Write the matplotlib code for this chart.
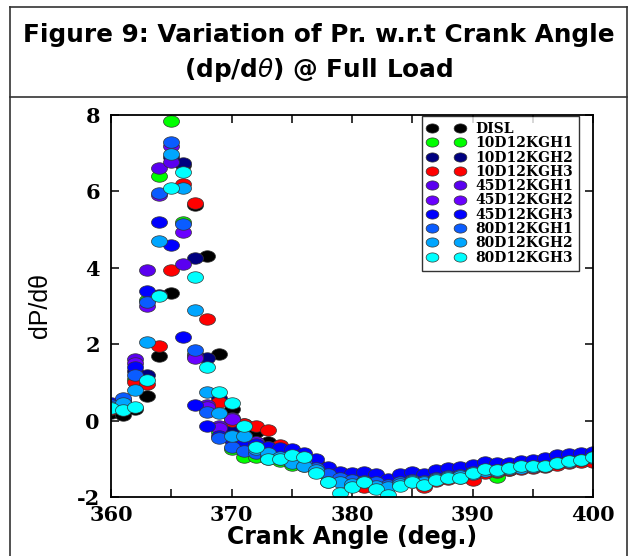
import numpy as np
import matplotlib
matplotlib.use("Agg")
import matplotlib.pyplot as plt
from matplotlib.lines import Line2D

plt.rcParams['axes.unicode_minus'] = False

# crank angle (deg)
angles = list(range(360, 401))

labels = ['DISL', '10D12KGH1', '10D12KGH2', '10D12KGH3', '45D12KGH1',
          '45D12KGH2', '45D12KGH3', '80D12KGH1', '80D12KGH2', '80D12KGH3']
colors = ['#000000', '#00ff00', '#000080', '#ff0000', '#5a00f0',
          '#6a00ff', '#0000ff', '#0a5cff', '#00a6ff', '#00ffff']

disl = [0.20, 0.15, 0.30, 0.65, 1.70, 3.35, 6.70, 5.65, 4.30, 1.75, 0.30, -0.10, -0.30, -0.55, -0.70,
        -0.85, -1.00, -1.10, -1.30, -1.42, -1.48, -1.50, -1.55, -1.60, -1.52, -1.48, -1.50, -1.42,
        -1.38, -1.35, -1.30, -1.25, -1.25, -1.20, -1.18, -1.15, -1.12, -1.05, -1.02, -0.98, -0.92]
d10_h1 = [0.35, 0.30, 1.10, 3.15, 6.40, 7.85, 5.20, 1.75, 0.30, -0.30, -0.75, -0.95, -0.95, -1.00, -1.05,
          -1.15, -1.20, -1.30, -1.45, -1.55, -1.60, -1.62, -1.68, -1.72, -1.62, -1.58, -1.60, -1.52,
          -1.48, -1.45, -1.40, -1.35, -1.47, -1.30, -1.25, -1.22, -1.20, -1.12, -1.08, -1.05, -1.00]
d10_h2 = [0.35, 0.50, 1.30, 1.20, 3.30, 6.90, 6.75, 4.25, 1.65, 0.60, -0.20, -0.40, -0.55, -0.70, -0.85,
          -0.90, -1.00, -1.12, -1.28, -1.38, -1.45, -1.48, -1.52, -1.58, -1.50, -1.45, -1.48, -1.40,
          -1.35, -1.32, -1.25, -1.20, -1.22, -1.18, -1.15, -1.12, -1.10, -1.02, -1.00, -0.95, -0.88]
d10_h3 = [0.30, 0.35, 1.00, 0.95, 1.95, 3.95, 6.20, 5.70, 2.65, 0.50, 0.00, -0.10, -0.15, -0.25, -0.65,
          -0.85, -1.05, -1.20, -1.40, -1.55, -1.62, -1.75, -1.70, -1.72, -1.65, -1.60, -1.75, -1.58,
          -1.52, -1.50, -1.55, -1.38, -1.35, -1.30, -1.28, -1.25, -1.22, -1.15, -1.12, -1.08, -1.08]
d45_h1 = [0.40, 0.45, 1.60, 3.95, 6.60, 6.77, 4.10, 1.70, 0.40, -0.15, 0.07, -0.45, -0.60, -0.75, -0.90,
          -1.00, -1.10, -1.22, -1.38, -1.48, -1.55, -1.58, -1.62, -1.65, -1.58, -1.52, -1.55, -1.48,
          -1.42, -1.40, -1.33, -1.28, -1.28, -1.22, -1.20, -1.18, -1.15, -1.08, -1.05, -1.00, -0.92]
d45_h2 = [0.42, 0.50, 1.50, 3.00, 5.90, 7.20, 4.95, 1.65, 0.35, -0.20, 0.05, -0.40, -0.55, -0.70, -0.88,
          -0.98, -1.08, -1.20, -1.35, -1.45, -1.52, -1.55, -1.60, -1.62, -1.55, -1.50, -1.52, -1.45,
          -1.40, -1.38, -1.32, -1.25, -1.27, -1.22, -1.20, -1.16, -1.14, -1.08, -1.04, -1.00, -0.93]
d45_h3 = [0.45, 0.55, 1.40, 3.40, 5.20, 4.60, 2.20, 0.40, -0.15, -0.40, -0.50, -0.58, -0.62, -0.70, -0.72,
          -0.75, -0.85, -1.00, -1.22, -1.35, -1.38, -1.35, -1.40, -1.52, -1.40, -1.35, -1.40, -1.30,
          -1.25, -1.22, -1.15, -1.08, -1.12, -1.10, -1.05, -1.02, -0.98, -0.90, -0.88, -0.85, -0.82]
d80_h1 = [0.40, 0.60, 1.20, 3.10, 5.95, 7.30, 5.15, 1.85, 0.22, -0.45, -0.70, -0.80, -0.85, -0.95, -1.00,
          -1.05, -1.12, -1.25, -1.40, -1.50, -1.55, -1.58, -1.62, -1.68, -1.60, -1.55, -1.58, -1.50,
          -1.45, -1.42, -1.35, -1.30, -1.30, -1.25, -1.22, -1.20, -1.18, -1.10, -1.06, -1.02, -0.95]
d80_h2 = [0.35, 0.45, 0.80, 2.05, 4.70, 6.98, 6.10, 2.90, 0.75, 0.20, -0.40, -0.40, -0.75, -0.85, -0.95,
          -1.10, -1.20, -1.30, -1.60, -1.60, -1.65, -1.62, -1.70, -1.75, -1.65, -1.58, -1.62, -1.52,
          -1.48, -1.45, -1.40, -1.32, -1.33, -1.28, -1.25, -1.22, -1.20, -1.12, -1.08, -1.04, -0.98]
d80_h3 = [0.32, 0.28, 0.36, 1.05, 3.25, 6.10, 6.50, 3.75, 1.40, 0.75, 0.45, -0.15, -0.70, -1.00, -1.00,
          -0.90, -0.95, -1.37, -1.60, -1.90, -1.75, -1.60, -1.80, -1.95, -1.70, -1.60, -1.68, -1.55,
          -1.50, -1.50, -1.37, -1.27, -1.30, -1.24, -1.20, -1.20, -1.20, -1.10, -1.07, -1.03, -0.95]

series = [disl, d10_h1, d10_h2, d10_h3, d45_h1, d45_h2, d45_h3, d80_h1, d80_h2, d80_h3]

# flattened ellipse marker (the original picture is stretched sideways)
t = np.linspace(0, 2 * np.pi, 40)
ell = list(zip(np.cos(t), 0.72 * np.sin(t)))

fig = plt.figure(figsize=(6.35, 5.56), dpi=100)

# table-like frame around the figure
W, H = 635.0, 556.0
def fline(x0, y0, x1, y1):
    fig.add_artist(Line2D([x0 / W, x1 / W], [1 - y0 / H, 1 - y1 / H],
                          color='#333333', lw=1.2, transform=fig.transFigure))
fline(10, 7, 627, 7)
fline(10, 7, 10, 556)
fline(627, 7, 627, 556)
fline(10, 97, 627, 97)

fig.text(318.5 / W, 1 - 35 / H, 'Figure 9: Variation of Pr. w.r.t Crank Angle',
         ha='center', va='center', fontsize=17.8, fontweight='bold', family='DejaVu Sans')
fig.text(318.5 / W, 1 - 70 / H, r'(dp/d$\theta$) @ Full Load',
         ha='center', va='center', fontsize=17.8, fontweight='bold', family='DejaVu Sans')

ax = fig.add_axes([111 / W, (H - 497) / H, 482 / W, 382 / H])
for vals, c, lab in zip(series, colors, labels):
    ax.plot(angles, vals, ls='none', marker=ell, ms=11.5, mfc=c,
            mec='#333333', mew=0.5, label=lab)

ax.set_xlim(360, 400)
ax.set_ylim(-2, 8)
ax.set_xticks([360, 370, 380, 390, 400])
ax.set_xticks([365, 375, 385, 395], minor=True)
ax.set_yticks([-2, 0, 2, 4, 6, 8])
ax.tick_params(which='both', direction='in', top=True, right=True, width=1.1, length=6)
ax.tick_params(axis='x', pad=6)
ax.tick_params(axis='y', pad=8)
for s in ax.spines.values():
    s.set_linewidth(1.3)
for tl in ax.get_xticklabels() + ax.get_yticklabels():
    tl.set_family('DejaVu Serif')
    tl.set_fontweight('bold')
    tl.set_fontsize(15)

ax.set_xlabel('Crank Angle (deg.)', fontsize=17, fontweight='bold',
              family='DejaVu Sans', labelpad=0)
ax.set_ylabel('dP/d\u03b8', fontsize=18, family='Liberation Sans', labelpad=18)

leg = ax.legend(loc='upper left', bbox_to_anchor=(0.645, 0.998), numpoints=2,
                fancybox=False, frameon=True, edgecolor='black', borderaxespad=0,
                prop={'family': 'DejaVu Serif', 'weight': 'bold', 'size': 10},
                handlelength=2.6, handletextpad=0.8, labelspacing=0.02,
                borderpad=0.45, markerscale=0.8)
leg.get_frame().set_linewidth(1.0)

fig.savefig('out.png', dpi=100)
